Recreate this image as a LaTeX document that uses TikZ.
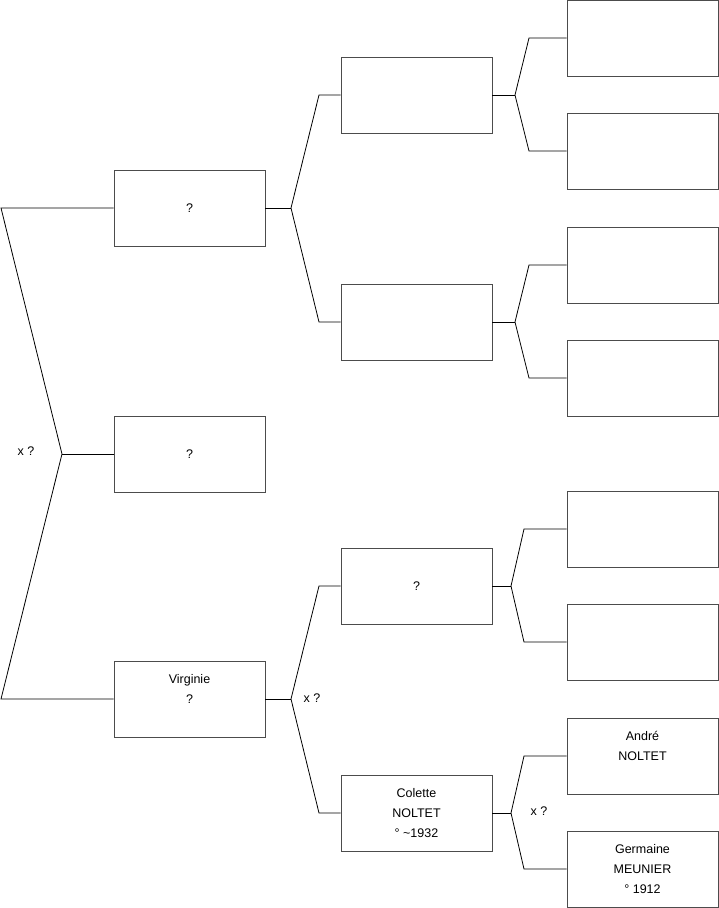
\documentclass[tikz,border=0pt]{standalone}
\usepackage{fontspec}
\setmainfont{Liberation Sans}
\begin{document}
\begin{tikzpicture}[x=1pt,y=-1pt,
  person/.style={draw=black!70,line width=0.9pt,minimum width=151pt,minimum height=76pt,inner sep=0pt,
    align=center,font=\fontsize{12.5}{20}\selectfont},
  link/.style={draw=black,line width=0.8pt},
  lbl/.style={font=\fontsize{12.5}{15}\selectfont,inner sep=0pt}]
\useasboundingbox (0,0) rectangle (719,908);
% generation 1
\node[person] (a1) at (189.5,208) {?};
\node[person] (a2) at (189.5,454) {?};
\node[person] (a3) at (189.5,699) {Virginie\\?\\\mbox{}};
% generation 2
\node[person] (b1) at (416.5,95) {};
\node[person] (b2) at (416.5,322) {};
\node[person] (b3) at (416.5,586) {?};
\node[person] (b4) at (416.5,813) {Colette\\NOLTET\\° \textasciitilde1932};
% generation 3
\node[person] (c1) at (642.5,38) {};
\node[person] (c2) at (642.5,151) {};
\node[person] (c3) at (642.5,265) {};
\node[person] (c4) at (642.5,378) {};
\node[person] (c5) at (642.5,529) {};
\node[person] (c6) at (642.5,642) {};
\node[person] (c7) at (642.5,756) {André\\NOLTET\\\mbox{}};
\node[person] (c8) at (642.5,869) {Germaine\\MEUNIER\\° 1912};
% root bracket
\coordinate (r0) at (62,454);
\coordinate (r1) at (1,208);
\coordinate (r3) at (1,699);
\draw[link] (a1.west) -- (r1) -- (r0) -- (r3) -- (a3.west);
\draw[link] (r0) -- (a2.west);
\node[lbl] (x0) at (26,451) {x ?};
% a1 bracket
\coordinate (p1) at (291,208);
\coordinate (p1u) at (319,95);
\coordinate (p1d) at (319,322);
\draw[link] (b1.west) -- (p1u) -- (p1) -- (p1d) -- (b2.west);
\draw[link] (a1.east) -- (p1);
% a3 bracket
\coordinate (p3) at (291,699);
\coordinate (p3u) at (319,586);
\coordinate (p3d) at (319,813);
\draw[link] (b3.west) -- (p3u) -- (p3) -- (p3d) -- (b4.west);
\draw[link] (a3.east) -- (p3);
\node[lbl] (x1) at (312,698) {x ?};
% b brackets
\coordinate (q1) at (515,95);
\coordinate (q1u) at (529,38);
\coordinate (q1d) at (529,151);
\draw[link] (c1.west) -- (q1u) -- (q1) -- (q1d) -- (c2.west);
\draw[link] (b1.east) -- (q1);
\coordinate (q2) at (515,322);
\coordinate (q2u) at (529,265);
\coordinate (q2d) at (529,378);
\draw[link] (c3.west) -- (q2u) -- (q2) -- (q2d) -- (c4.west);
\draw[link] (b2.east) -- (q2);
\coordinate (q3) at (511,586);
\coordinate (q3u) at (524,529);
\coordinate (q3d) at (524,642);
\draw[link] (c5.west) -- (q3u) -- (q3) -- (q3d) -- (c6.west);
\draw[link] (b3.east) -- (q3);
\coordinate (q4) at (511,813);
\coordinate (q4u) at (524,756);
\coordinate (q4d) at (524,869);
\draw[link] (c7.west) -- (q4u) -- (q4) -- (q4d) -- (c8.west);
\draw[link] (b4.east) -- (q4);
\node[lbl] (x2) at (539,811) {x ?};
\end{tikzpicture}
\end{document}
